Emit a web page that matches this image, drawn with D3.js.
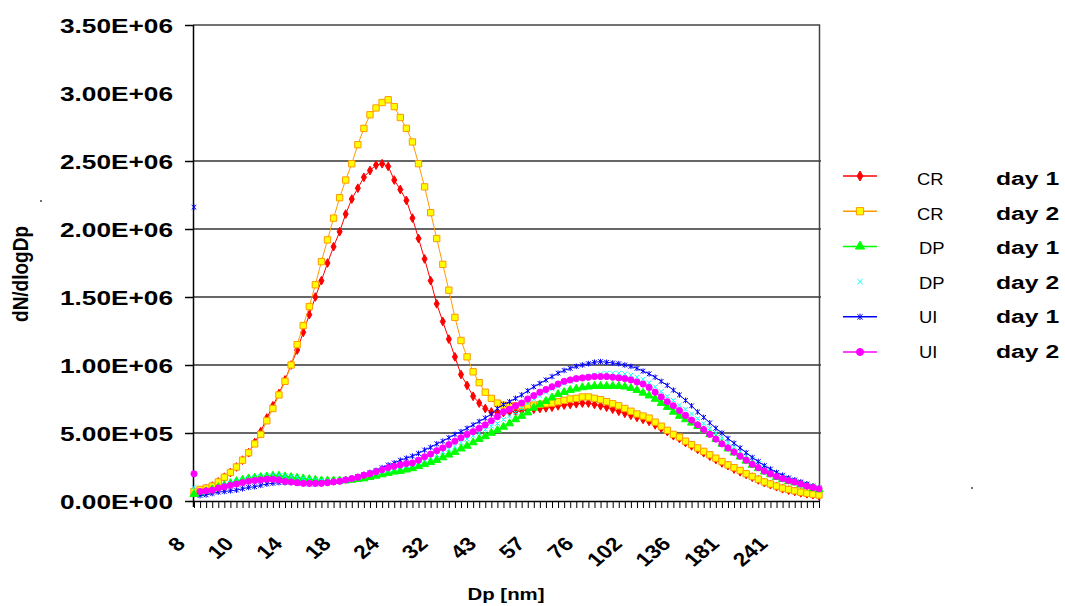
<!DOCTYPE html>
<html>
<head>
<meta charset="utf-8">
<script src="https://cdn.jsdelivr.net/npm/d3@7"></script>
<style>
  body { margin: 0; background: #fff; }
  svg { display: block; font-family: "Liberation Sans", Arial, sans-serif; }
</style>
</head>
<body>
<div id="chart"></div>
<script>
// x tick labels (Dp in nm), one label every 8 size channels
const tickLabels = ["8", "10", "14", "18", "24", "32", "43", "57", "76", "102", "136", "181", "241"];
const labelEvery = 8;

// y ticks, in units of 1E+06
const yTicks = [0, 0.5, 1.0, 1.5, 2.0, 2.5, 3.0, 3.5];

// dN/dlogDp per size channel, in units of 1E+06
const crDay1 = [
  0.06, 0.075, 0.09, 0.11, 0.14, 0.175, 0.21, 0.25, 0.30, 0.355,
  0.43, 0.51, 0.61, 0.70, 0.79, 0.89, 1.00, 1.11, 1.24, 1.37,
  1.50, 1.62, 1.75, 1.87, 1.98, 2.11, 2.22, 2.30, 2.38, 2.43,
  2.47, 2.48, 2.46, 2.36, 2.29, 2.21, 2.08, 1.93, 1.78, 1.62,
  1.45, 1.32, 1.19, 1.06, 0.93, 0.85, 0.77, 0.72, 0.68, 0.655,
  0.65, 0.65, 0.655, 0.66, 0.665, 0.67, 0.675, 0.68, 0.685, 0.69,
  0.70, 0.705, 0.71, 0.715, 0.72, 0.72, 0.71, 0.70, 0.69, 0.675,
  0.66, 0.645, 0.63, 0.615, 0.60, 0.585, 0.56, 0.535, 0.51, 0.48,
  0.46, 0.43, 0.405, 0.38, 0.355, 0.33, 0.305, 0.28, 0.26, 0.235,
  0.215, 0.195, 0.175, 0.155, 0.135, 0.12, 0.105, 0.09, 0.08, 0.07,
  0.06, 0.053, 0.047, 0.04
];
const crDay2 = [
  0.07, 0.085, 0.095, 0.11, 0.14, 0.175, 0.21, 0.25, 0.30, 0.355,
  0.42, 0.49, 0.59, 0.68, 0.78, 0.88, 1.00, 1.15, 1.29, 1.43,
  1.59, 1.76, 1.92, 2.08, 2.23, 2.36, 2.48, 2.62, 2.74, 2.84,
  2.89, 2.93, 2.95, 2.90, 2.82, 2.74, 2.64, 2.48, 2.31, 2.12,
  1.93, 1.74, 1.55, 1.35, 1.18, 1.06, 0.95, 0.87, 0.80, 0.755,
  0.72, 0.705, 0.70, 0.70, 0.70, 0.70, 0.705, 0.71, 0.715, 0.72,
  0.73, 0.74, 0.75, 0.755, 0.765, 0.765, 0.755, 0.745, 0.73, 0.715,
  0.70, 0.68, 0.66, 0.64, 0.625, 0.61, 0.58, 0.55, 0.52, 0.49,
  0.47, 0.44, 0.415, 0.39, 0.365, 0.34, 0.315, 0.29, 0.265, 0.245,
  0.225, 0.20, 0.18, 0.16, 0.14, 0.125, 0.11, 0.095, 0.085, 0.075,
  0.065, 0.057, 0.05, 0.044
];
const dpDay1 = [
  0.05, 0.055, 0.07, 0.085, 0.10, 0.115, 0.13, 0.145, 0.155, 0.165,
  0.17, 0.175, 0.18, 0.185, 0.185, 0.18, 0.175, 0.17, 0.165, 0.16,
  0.155, 0.15, 0.15, 0.15, 0.15, 0.15, 0.155, 0.16, 0.165, 0.175,
  0.185, 0.195, 0.205, 0.215, 0.22, 0.23, 0.24, 0.255, 0.27, 0.285,
  0.30, 0.32, 0.34, 0.36, 0.385, 0.405, 0.43, 0.455, 0.475, 0.50,
  0.52, 0.545, 0.57, 0.60, 0.625, 0.65, 0.685, 0.71, 0.735, 0.76,
  0.785, 0.80, 0.815, 0.825, 0.835, 0.84, 0.845, 0.845, 0.845, 0.845,
  0.845, 0.84, 0.83, 0.815, 0.795, 0.775, 0.75, 0.72, 0.69, 0.655,
  0.625, 0.60, 0.575, 0.55, 0.52, 0.49, 0.455, 0.42, 0.385, 0.355,
  0.325, 0.295, 0.265, 0.24, 0.215, 0.195, 0.175, 0.16, 0.145, 0.135,
  0.12, 0.11, 0.095, 0.085
];
const dpDay2 = [
  0.10, 0.06, 0.07, 0.085, 0.10, 0.115, 0.13, 0.145, 0.155, 0.165,
  0.175, 0.18, 0.185, 0.19, 0.19, 0.185, 0.18, 0.175, 0.165, 0.16,
  0.155, 0.15, 0.15, 0.15, 0.155, 0.16, 0.165, 0.175, 0.185, 0.195,
  0.205, 0.215, 0.225, 0.235, 0.25, 0.26, 0.27, 0.285, 0.30, 0.32,
  0.34, 0.36, 0.38, 0.40, 0.43, 0.455, 0.48, 0.50, 0.525, 0.55,
  0.57, 0.60, 0.625, 0.65, 0.68, 0.72, 0.75, 0.775, 0.80, 0.825,
  0.845, 0.865, 0.88, 0.895, 0.905, 0.915, 0.925, 0.935, 0.94, 0.94,
  0.94, 0.935, 0.925, 0.91, 0.895, 0.87, 0.84, 0.805, 0.77, 0.74,
  0.705, 0.675, 0.64, 0.605, 0.57, 0.535, 0.50, 0.465, 0.43, 0.40,
  0.365, 0.335, 0.305, 0.275, 0.245, 0.22, 0.20, 0.18, 0.16, 0.15,
  0.135, 0.12, 0.105, 0.095
];
const uiDay1 = [
  2.16, 0.04, 0.045, 0.055, 0.065, 0.07, 0.075, 0.08, 0.09, 0.10,
  0.105, 0.115, 0.125, 0.13, 0.135, 0.135, 0.135, 0.13, 0.13, 0.125,
  0.125, 0.13, 0.135, 0.14, 0.145, 0.155, 0.165, 0.18, 0.195, 0.21,
  0.225, 0.245, 0.265, 0.28, 0.30, 0.315, 0.33, 0.35, 0.375, 0.395,
  0.42, 0.44, 0.465, 0.49, 0.51, 0.535, 0.56, 0.585, 0.61, 0.64,
  0.68, 0.71, 0.73, 0.755, 0.78, 0.81, 0.84, 0.865, 0.89, 0.915,
  0.94, 0.96, 0.975, 0.99, 1.00, 1.01, 1.02, 1.025, 1.02, 1.015,
  1.01, 1.00, 0.99, 0.975, 0.955, 0.935, 0.91, 0.88, 0.85, 0.815,
  0.78, 0.74, 0.70, 0.655, 0.615, 0.575, 0.535, 0.50, 0.46, 0.425,
  0.39, 0.355, 0.32, 0.29, 0.26, 0.235, 0.21, 0.19, 0.17, 0.155,
  0.14, 0.125, 0.11, 0.095
];
const uiDay2 = [
  0.20, 0.07, 0.075, 0.08, 0.095, 0.105, 0.115, 0.125, 0.135, 0.145,
  0.15, 0.155, 0.16, 0.16, 0.155, 0.145, 0.14, 0.135, 0.13, 0.13,
  0.13, 0.13, 0.135, 0.14, 0.145, 0.155, 0.165, 0.175, 0.19, 0.20,
  0.215, 0.23, 0.245, 0.255, 0.265, 0.275, 0.28, 0.30, 0.325, 0.345,
  0.37, 0.39, 0.415, 0.44, 0.465, 0.49, 0.51, 0.535, 0.56, 0.59,
  0.62, 0.655, 0.675, 0.70, 0.72, 0.75, 0.775, 0.80, 0.82, 0.84,
  0.86, 0.88, 0.89, 0.90, 0.905, 0.91, 0.915, 0.915, 0.915, 0.91,
  0.905, 0.90, 0.89, 0.875, 0.86, 0.835, 0.80, 0.765, 0.73, 0.70,
  0.665, 0.63, 0.595, 0.56, 0.525, 0.49, 0.455, 0.42, 0.39, 0.36,
  0.33, 0.30, 0.27, 0.245, 0.22, 0.20, 0.18, 0.165, 0.15, 0.14,
  0.125, 0.11, 0.10, 0.09
];

// Legend texts
const legendNames = ["CR", "CR", "DP", "DP", "UI", "UI"];
const legendDays = ["day 1", "day 2", "day 1", "day 2", "day 1", "day 2"];

const allSeries = [crDay1, crDay2, dpDay1, dpDay2, uiDay1, uiDay2];

// Series styles
const seriesColors = ["#ff0000", "#ff9900", "#00ff00", "#00ffff", "#0000ff", "#ff00ff"];
const markerFills = ["#ff0000", "#ffff00", "#00ff00", "none", "none", "#ff00ff"];
const hasLine = [true, true, true, false, true, true];

// Small cross and star markers like the Excel ones
const symbolX = {
  draw(ctx, size) {
    const r = Math.sqrt(size) / 2;
    ctx.moveTo(-r, -r); ctx.lineTo(r, r);
    ctx.moveTo(r, -r); ctx.lineTo(-r, r);
  }
};
const symbolStar = {
  draw(ctx, size) {
    const r = Math.sqrt(size) / 2;
    ctx.moveTo(-r, -r); ctx.lineTo(r, r);
    ctx.moveTo(r, -r); ctx.lineTo(-r, r);
    ctx.moveTo(0, -r * 1.2); ctx.lineTo(0, r * 1.2);
  }
};
const markerTypes = [d3.symbolDiamond, d3.symbolSquare, d3.symbolTriangle, symbolX, symbolStar, d3.symbolCircle];
const markerSizes = [22, 40, 28, 22, 22, 30];

const width = 1065;
const height = 606;
const nPoints = crDay1.length;

const svg = d3.select("#chart")
  .append("svg")
  .attr("width", width)
  .attr("height", height);

const x = d3.scaleLinear().domain([0, nPoints - 1]).range([194, 819]);
const y = d3.scaleLinear().domain([0, 3.5]).range([501, 25]);

// 3.50E+06 style labels
function sci(v) {
  const n = v * 1e6;
  if (n === 0) return "0.00E+00";
  const e = Math.floor(Math.log10(n) + 1e-9);
  return (n / Math.pow(10, e)).toFixed(2) + "E+" + String(e).padStart(2, "0");
}

// Gridlines (none at 3.0 in the original)
svg.append("g")
  .selectAll("line")
  .data(yTicks.filter(v => v > 0 && v < 3))
  .enter()
  .append("line")
  .attr("x1", 193)
  .attr("x2", 821)
  .attr("y1", d => y(d))
  .attr("y2", d => y(d))
  .attr("stroke", "#333")
  .attr("stroke-width", 1.5);

// Top and right frame
svg.append("path")
  .attr("d", `M193,${y(3.5)}H819.5V${y(0)}`)
  .attr("fill", "none")
  .attr("stroke", "#444")
  .attr("stroke-width", 1.5);

// Y axis
const yAxis = svg.append("g")
  .attr("transform", "translate(193,0)")
  .call(d3.axisLeft(y).tickValues(yTicks).tickSize(8).tickSizeOuter(0).tickFormat(sci));

yAxis.select(".domain").attr("stroke", "#000").attr("stroke-width", 1.5).attr("d", `M0.5,${y(3.5)}V${y(0) + 6}`);
yAxis.selectAll(".tick line").attr("stroke", "#000").attr("stroke-width", 1.5);
yAxis.selectAll(".tick").filter(d => d === 3).select("line").remove();
yAxis.selectAll(".tick text")
  .attr("x", 0)
  .attr("dy", null)
  .attr("transform", "translate(-20,7.5) scale(1.25,1)")
  .attr("font-family", "'Liberation Sans', Arial, sans-serif")
  .attr("font-size", 21)
  .attr("font-weight", "bold")
  .attr("fill", "#000");

// X axis, a tick on every size channel
const xAxis = svg.append("g")
  .attr("transform", `translate(0,${y(0)})`)
  .call(d3.axisBottom(x)
    .tickValues(d3.range(nPoints))
    .tickSize(7)
    .tickSizeOuter(0)
    .tickFormat(i => (i % labelEvery === 0 && tickLabels[i / labelEvery]) ? tickLabels[i / labelEvery] : ""));

xAxis.select(".domain").attr("stroke", "#000").attr("stroke-width", 1.5).attr("d", "M193,0.5H820");
xAxis.selectAll(".tick line").attr("stroke", "#000").attr("stroke-width", 1);
xAxis.selectAll(".tick text")
  .attr("x", 0)
  .attr("y", 0)
  .attr("dy", null)
  .attr("text-anchor", "end")
  .attr("transform", "translate(-8,44) scale(1.2,1) rotate(-45)")
  .attr("font-family", "'Liberation Sans', Arial, sans-serif")
  .attr("font-size", 19)
  .attr("font-weight", "bold")
  .attr("fill", "#000");

// Axis titles
svg.append("text")
  .attr("transform", "translate(506,600) scale(1.2,1)")
  .attr("text-anchor", "middle")
  .attr("font-size", 17)
  .attr("font-weight", "bold")
  .text("Dp [nm]");

svg.append("text")
  .attr("transform", "translate(28,274) scale(1.2,1) rotate(-90)")
  .attr("text-anchor", "middle")
  .attr("font-size", 19)
  .attr("font-weight", "bold")
  .text("dN/dlogDp");

// Series: line first, then markers, in legend order
const line = d3.line()
  .defined((d, i) => i > 0)
  .x((d, i) => x(i))
  .y(d => y(d));

allSeries.forEach(function(values, k) {
  const g = svg.append("g");
  if (hasLine[k]) {
    g.append("path")
      .datum(values)
      .attr("d", line)
      .attr("fill", "none")
      .attr("stroke", seriesColors[k])
      .attr("stroke-width", 1);
  }
  const sym = d3.symbol().type(markerTypes[k]).size(markerSizes[k]);
  g.selectAll(".mark")
    .data(values)
    .enter()
    .append("path")
    .attr("class", "mark")
    .attr("transform", (d, i) => `translate(${x(i)},${y(d)})`)
    .attr("d", sym)
    .attr("fill", markerFills[k])
    .attr("stroke", seriesColors[k])
    .attr("stroke-width", 1);
});

// Legend
const legend = svg.append("g");
legendNames.forEach(function(name, k) {
  const my = 176 + k * 35.2;
  const ty = 185 + k * 34.6;
  if (hasLine[k]) {
    legend.append("line")
      .attr("x1", 843).attr("x2", 877)
      .attr("y1", my).attr("y2", my)
      .attr("stroke", seriesColors[k])
      .attr("stroke-width", 1.5);
  }
  legend.append("path")
    .attr("transform", `translate(860,${my})`)
    .attr("d", d3.symbol().type(markerTypes[k]).size(markerSizes[k] * 1.3))
    .attr("fill", markerFills[k])
    .attr("stroke", seriesColors[k])
    .attr("stroke-width", 1);
  legend.append("text")
    .attr("transform", `translate(${name === "CR" ? 917 : 919},${ty}) scale(1.15,1)`)
    .attr("font-size", 16)
    .text(name);
  legend.append("text")
    .attr("transform", `translate(996,${ty}) scale(1.3,1)`)
    .attr("font-size", 19)
    .attr("font-weight", "bold")
    .text(legendDays[k]);
});

// Two stray specks in the original
svg.selectAll(".speck")
  .data([[41, 201], [972, 488]])
  .enter()
  .append("circle")
  .attr("class", "speck")
  .attr("cx", d => d[0])
  .attr("cy", d => d[1])
  .attr("r", 1)
  .attr("fill", "#444");
</script>
</body>
</html>
